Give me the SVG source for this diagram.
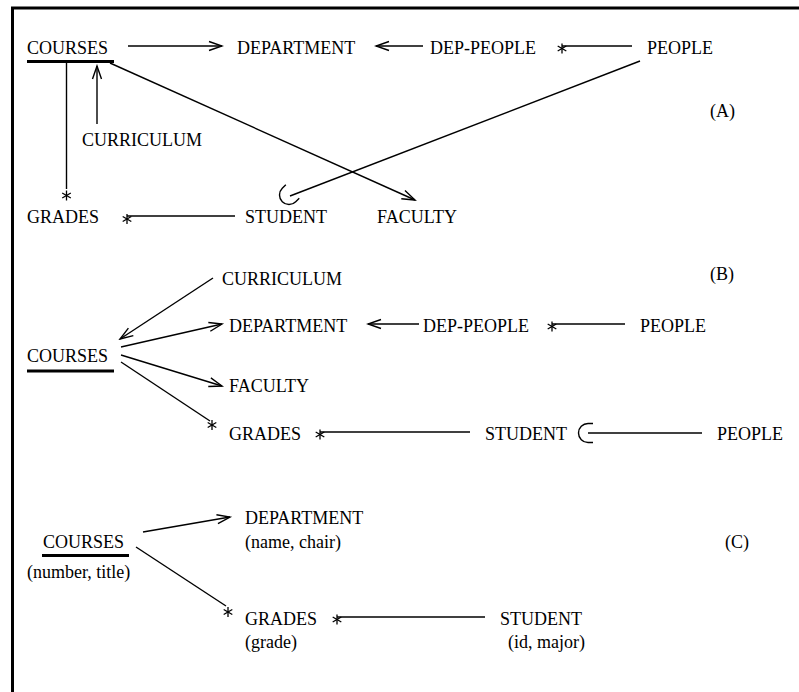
<svg xmlns="http://www.w3.org/2000/svg" xmlns:xlink="http://www.w3.org/1999/xlink" width="799" height="692" viewBox="0 0 799 692">
<style>
text{font-family:"Liberation Serif","Times New Roman",serif;font-size:18px;fill:#000}
.c{stroke:#000;stroke-width:1.4;fill:none}
.arr{marker-end:url(#ah)}
.ul{stroke:#000;stroke-width:3}
.st line{stroke:#000;stroke-width:1.3}
.hk{stroke:#000;stroke-width:1.4;fill:none}
</style>
<defs>
<marker id="ah" markerUnits="userSpaceOnUse" markerWidth="16" markerHeight="12" viewBox="-14 -6 16 12" refX="0" refY="0" orient="auto">
<path d="M-13,-4.5 L0,0 L-13,4.5" fill="none" stroke="#000" stroke-width="1.4"/>
</marker>
<g id="star" class="st">
<line x1="0" y1="-5" x2="0" y2="5"/>
<line x1="-4.3" y1="-2.5" x2="4.3" y2="2.5"/>
<line x1="-4.3" y1="2.5" x2="4.3" y2="-2.5"/>
</g>
<path id="hook" d="M5,-9.5 L0,-9.5 A9.5,9.5 0 0,0 0,9.5 L5,9.5"/>
</defs>
<rect width="799" height="692" fill="#fff"/>
<g id="frame">
<line x1="11" y1="8" x2="799" y2="8" stroke="#000" stroke-width="3"/>
<line x1="12.5" y1="8" x2="12.5" y2="692" stroke="#000" stroke-width="3"/>
</g>

<!-- Section A -->
<g id="A-courses"><text x="27" y="54">COURSES</text><line class="ul" x1="27" y1="61.5" x2="114" y2="61.5"/></g>
<g id="A-department"><text x="237" y="54">DEPARTMENT</text></g>
<g id="A-dep-people"><text x="430" y="54">DEP-PEOPLE</text></g>
<g id="A-people"><text x="647" y="54">PEOPLE</text></g>
<g id="A-curriculum"><text x="82" y="146">CURRICULUM</text></g>
<g id="A-grades"><text x="27" y="223">GRADES</text></g>
<g id="A-student"><text x="245" y="223">STUDENT</text></g>
<g id="A-faculty"><text x="377" y="223">FACULTY</text></g>
<g id="A-label"><text x="710" y="117">(A)</text></g>

<!-- Section B -->
<g id="B-courses"><text x="27" y="362">COURSES</text><line class="ul" x1="27" y1="371" x2="114" y2="371"/></g>
<g id="B-curriculum"><text x="222" y="285">CURRICULUM</text></g>
<g id="B-department"><text x="229" y="332">DEPARTMENT</text></g>
<g id="B-dep-people"><text x="423" y="332">DEP-PEOPLE</text></g>
<g id="B-people1"><text x="640" y="332">PEOPLE</text></g>
<g id="B-faculty"><text x="229" y="392">FACULTY</text></g>
<g id="B-grades"><text x="229" y="440">GRADES</text></g>
<g id="B-student"><text x="485" y="440">STUDENT</text></g>
<g id="B-people2"><text x="717" y="440">PEOPLE</text></g>
<g id="B-label"><text x="710" y="280">(B)</text></g>

<!-- Section C -->
<g id="C-courses"><text x="43" y="548">COURSES</text><line class="ul" x1="42" y1="555.5" x2="129" y2="555.5"/><text x="27" y="578">(number, title)</text></g>
<g id="C-department"><text x="245" y="524">DEPARTMENT</text><text x="245" y="548">(name, chair)</text></g>
<g id="C-grades"><text x="245" y="625">GRADES</text><text x="245" y="648">(grade)</text></g>
<g id="C-student"><text x="500" y="625">STUDENT</text><text x="508" y="648">(id, major)</text></g>
<g id="C-label"><text x="725" y="548">(C)</text></g>

<g id="connectors">
<!-- A -->
<line class="c arr" x1="128" y1="46" x2="222" y2="46"/>
<line class="c arr" x1="423" y1="46" x2="376" y2="46"/>
<line class="c" x1="632" y1="46" x2="562" y2="46"/>
<use xlink:href="#star" x="562" y="48.5"/>
<line class="c arr" x1="110" y1="63" x2="415" y2="200"/>
<line class="c" x1="640" y1="61" x2="290" y2="196"/>
<use xlink:href="#hook" class="hk" transform="translate(289,195) rotate(-45)"/>
<line class="c" x1="66.5" y1="62" x2="66.5" y2="189"/>
<use xlink:href="#star" x="66.5" y="195.5"/>
<line class="c arr" x1="97" y1="124" x2="97" y2="66"/>
<line class="c" x1="235" y1="216" x2="127" y2="216"/>
<use xlink:href="#star" x="127" y="219"/>
<!-- B -->
<line class="c arr" x1="213" y1="278" x2="120" y2="339"/>
<line class="c arr" x1="121" y1="347" x2="222" y2="324"/>
<line class="c arr" x1="121" y1="355" x2="222" y2="386"/>
<line class="c" x1="121" y1="362" x2="210" y2="421"/>
<use xlink:href="#star" x="212" y="425"/>
<line class="c arr" x1="419" y1="324" x2="368" y2="324"/>
<line class="c" x1="625" y1="324" x2="552" y2="324"/>
<use xlink:href="#star" x="552" y="326.5"/>
<line class="c" x1="470" y1="432" x2="320" y2="432"/>
<use xlink:href="#star" x="320" y="434.5"/>
<line class="c" x1="702" y1="433" x2="588" y2="433"/>
<use xlink:href="#hook" class="hk" transform="translate(588,433)"/>
<!-- C -->
<line class="c arr" x1="143" y1="532" x2="230" y2="517"/>
<line class="c" x1="136" y1="547" x2="226" y2="606"/>
<use xlink:href="#star" x="228" y="612"/>
<line class="c" x1="485" y1="617" x2="337" y2="617"/>
<use xlink:href="#star" x="337" y="619.5"/>
</g>
</svg>
